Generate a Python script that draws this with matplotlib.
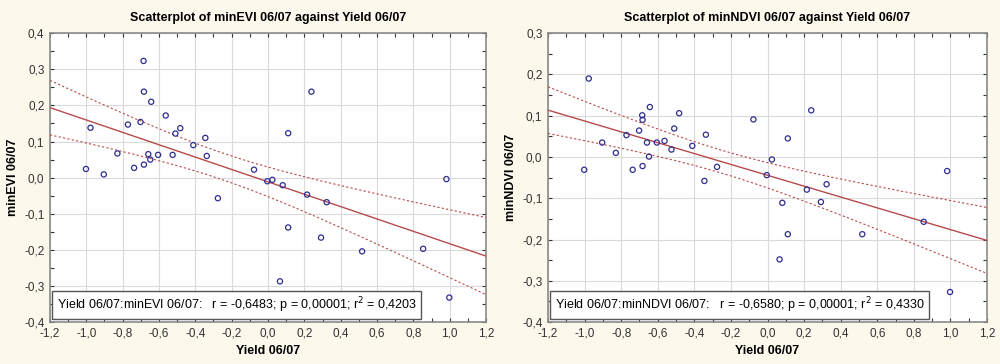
import numpy as np
import matplotlib.pyplot as plt
from matplotlib.ticker import MultipleLocator, FuncFormatter

# ─── Data ─────────────────────────────────────────────────────────────────────

yield_0607 = [-1.002, -0.977, -0.904, -0.829, -0.771, -0.737, -0.702,
              -0.685, -0.683, -0.683, -0.659, -0.648, -0.643, -0.605,
              -0.563, -0.525, -0.510, -0.483, -0.411, -0.345, -0.337,
              -0.276, -0.077, -0.004, 0.024, 0.066, 0.081, 0.111, 0.111,
              0.215, 0.239, 0.292, 0.323, 0.518, 0.854, 0.982, 0.998]

min_evi = [0.024, 0.138, 0.009, 0.067, 0.147, 0.027, 0.154,
           0.323, 0.238, 0.036, 0.065, 0.050, 0.210, 0.063,
           0.172, 0.063, 0.122, 0.137, 0.090, 0.110, 0.060,
           -0.057, 0.022, -0.010, -0.006, -0.287, -0.021, 0.123, -0.138,
           -0.047, 0.238, -0.166, -0.068, -0.204, -0.197, -0.004, -0.332]

min_ndvi = [-0.031, 0.190, 0.035, 0.010, 0.053, -0.031, 0.064,
            0.101, 0.090, -0.022, 0.035, 0.001, 0.121, 0.035,
            0.039, 0.018, 0.069, 0.106, 0.027, -0.058, 0.054,
            -0.024, 0.091, -0.044, -0.006, -0.248, -0.111, 0.045, -0.187,
            -0.079, 0.113, -0.109, -0.066, -0.187, -0.157, -0.034, -0.327]

panels = [
    {"y": min_evi, "name": "minEVI 06/07", "ylim": (-0.4, 0.4),
     "stats": "r = -0,6483; p = 0,00001; r$^2$ = 0,4203"},
    {"y": min_ndvi, "name": "minNDVI 06/07", "ylim": (-0.4, 0.3),
     "stats": "r = -0,6580; p = 0,00001; r$^2$ = 0,4330"},
]

# ─── Style ────────────────────────────────────────────────────────────────────

BG = '#fcf8ec'
POINT = '#2f2f8f'
LINE = '#b84a4a'
T_975 = 2.03  # t quantile, 35 df

plt.rcParams['font.family'] = ['Liberation Sans', 'DejaVu Sans']

comma = FuncFormatter(lambda v, p: f"{v:.1f}".replace('.', ',').replace('-0,0', '0,0'))

fig = plt.figure(figsize=(10, 3.64), dpi=100, facecolor=BG)
axes_pos = [[0.050, 0.115, 0.436, 0.794], [0.548, 0.115, 0.439, 0.794]]

x = np.array(yield_0607)
for pos, pan in zip(axes_pos, panels):
    ax = fig.add_axes(pos)
    y = np.array(pan["y"])

    # regression line + 95% confidence band
    slope, icpt = np.polyfit(x, y, 1)
    xs = np.linspace(-1.2, 1.2, 200)
    fit = icpt + slope * xs
    n = len(x)
    resid = y - (icpt + slope * x)
    s = np.sqrt(np.sum(resid ** 2) / (n - 2))
    se = s * np.sqrt(1 / n + (xs - x.mean()) ** 2 / np.sum((x - x.mean()) ** 2))
    ax.plot(xs, fit, color=LINE, lw=1.0, zorder=3)
    ax.plot(xs, fit + T_975 * se, color=LINE, lw=0.8, ls=(0, (2, 2)), zorder=3)
    ax.plot(xs, fit - T_975 * se, color=LINE, lw=0.8, ls=(0, (2, 2)), zorder=3)

    ax.scatter(x, y, s=14, facecolors='none', edgecolors=POINT,
               linewidths=0.9, zorder=4)

    ax.set_xlim(-1.2, 1.2)
    ax.set_ylim(*pan["ylim"])
    ax.xaxis.set_major_locator(MultipleLocator(0.2))
    ax.xaxis.set_minor_locator(MultipleLocator(0.1))
    ax.yaxis.set_major_locator(MultipleLocator(0.1))
    ax.yaxis.set_minor_locator(MultipleLocator(0.05))
    ax.xaxis.set_major_formatter(comma)
    ax.yaxis.set_major_formatter(comma)
    ax.tick_params(which='both', direction='in', top=True, right=True,
                   length=3, width=0.8, color='#333333', labelsize=8.5,
                   labelcolor='#333333', pad=4)
    ax.grid(True, which='major', color='#dadada', lw=0.8)
    ax.set_axisbelow(True)
    for sp in ax.spines.values():
        sp.set_color('#8a8a8a')
        sp.set_linewidth(1.2)

    ax.set_title(f"Scatterplot of {pan['name']} against Yield 06/07",
                 fontsize=9, fontweight='bold', pad=9)
    ax.set_xlabel("Yield 06/07", fontsize=9, fontweight='bold', labelpad=4)
    ax.set_ylabel(pan["name"], fontsize=9, fontweight='bold', labelpad=4)

    ax.text(0.015, 0.06, f"Yield 06/07:{pan['name']}:   {pan['stats']}",
            transform=ax.transAxes, fontsize=9, va='center', ha='left',
            zorder=6,
            bbox=dict(boxstyle='square,pad=0.35', fc='white', ec='#555555', lw=1.0))

fig.savefig('out.png', dpi=100, facecolor=BG)
